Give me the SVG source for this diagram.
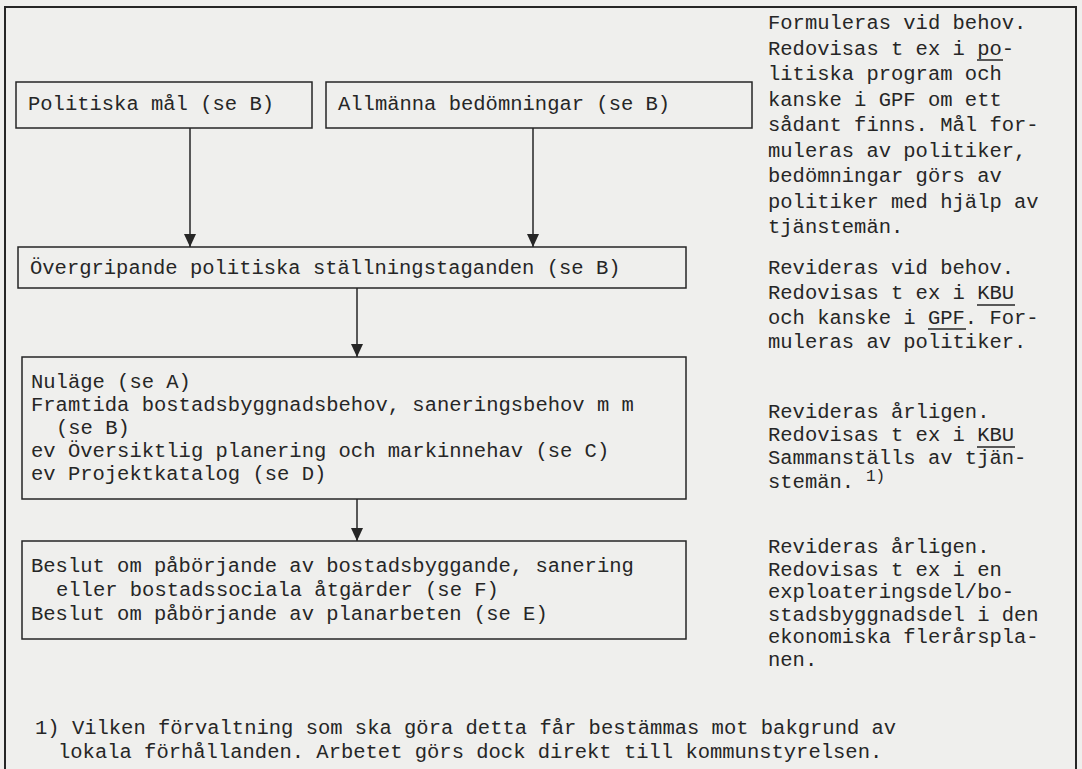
<svg xmlns="http://www.w3.org/2000/svg" width="1082" height="769" viewBox="0 0 1082 769">
<style>
text{font-family:"Liberation Mono","DejaVu Sans Mono",monospace;font-size:20.5px;fill:#262626}
.box{fill:none;stroke:#262626;stroke-width:1.5}
.frame{fill:none;stroke:#262626;stroke-width:2}
.conn{stroke:#262626;stroke-width:1.5;fill:none}
.ul{stroke:#262626;stroke-width:1.5}
.sup{font-size:16px}
</style>
<defs>
<marker id="ah" markerWidth="13" markerHeight="12" refX="13" refY="6" orient="auto" markerUnits="userSpaceOnUse" viewBox="0 0 13 12">
<path d="M0,0 L13,6 L0,12 Z" fill="#262626"/>
</marker>
</defs>
<rect width="1082" height="769" fill="#efefed"/>
<rect class="frame" x="5" y="7" width="1071" height="780"/>
<g id="n1">
<rect class="box" x="16" y="82" width="296" height="46"/>
<text x="28" y="110">Politiska mål (se B)</text>
</g>
<g id="n2">
<rect class="box" x="326" y="82" width="426" height="46"/>
<text x="338" y="110">Allmänna bedömningar (se B)</text>
</g>
<g id="n3">
<rect class="box" x="18" y="247" width="668" height="41"/>
<text x="30" y="274">Övergripande politiska ställningstaganden (se B)</text>
</g>
<g id="n4">
<rect class="box" x="22" y="357" width="664" height="142"/>
<text x="31" y="388">Nuläge (se A)</text>
<text x="31" y="411">Framtida bostadsbyggnadsbehov, saneringsbehov m m</text>
<text x="56" y="434">(se B)</text>
<text x="31" y="457">ev Översiktlig planering och markinnehav (se C)</text>
<text x="31" y="480">ev Projektkatalog (se D)</text>
</g>
<g id="n5">
<rect class="box" x="22" y="541" width="664" height="98"/>
<text x="31" y="572">Beslut om påbörjande av bostadsbyggande, sanering</text>
<text x="56" y="596">eller bostadssociala åtgärder (se F)</text>
<text x="31" y="620">Beslut om påbörjande av planarbeten (se E)</text>
</g>
<g id="connectors">
<line class="conn" x1="190" y1="128" x2="190" y2="247" marker-end="url(#ah)"/>
<line class="conn" x1="533" y1="128" x2="533" y2="247" marker-end="url(#ah)"/>
<line class="conn" x1="357" y1="288" x2="357" y2="357" marker-end="url(#ah)"/>
<line class="conn" x1="357" y1="499" x2="357" y2="541" marker-end="url(#ah)"/>
</g>
<g id="note1">
<text x="768" y="29">Formuleras vid behov.</text>
<text x="768" y="55">Redovisas t ex i po-</text>
<line class="ul" x1="977" y1="60" x2="1003" y2="60"/>
<text x="768" y="80">litiska program och</text>
<text x="768" y="106">kanske i GPF om ett</text>
<text x="768" y="131">sådant finns. Mål for-</text>
<text x="768" y="157">muleras av politiker,</text>
<text x="768" y="182">bedömningar görs av</text>
<text x="768" y="208">politiker med hjälp av</text>
<text x="768" y="233">tjänstemän.</text>
</g>
<g id="note2">
<text x="768" y="274">Revideras vid behov.</text>
<text x="768" y="299">Redovisas t ex i KBU</text>
<line class="ul" x1="977" y1="305" x2="1015" y2="305"/>
<text x="768" y="324">och kanske i GPF. For-</text>
<line class="ul" x1="928" y1="329" x2="966" y2="329"/>
<text x="768" y="348">muleras av politiker.</text>
</g>
<g id="note3">
<text x="768" y="418">Revideras årligen.</text>
<text x="768" y="441">Redovisas t ex i KBU</text>
<line class="ul" x1="977" y1="447" x2="1015" y2="447"/>
<text x="768" y="464">Sammanställs av tjän-</text>
<text x="768" y="488">stemän.</text>
<text class="sup" x="866" y="481">1)</text>
</g>
<g id="note4">
<text x="768" y="553">Revideras årligen.</text>
<text x="768" y="576">Redovisas t ex i en</text>
<text x="768" y="598">exploateringsdel/bo-</text>
<text x="768" y="621">stadsbyggnadsdel i den</text>
<text x="768" y="643">ekonomiska flerårspla-</text>
<text x="768" y="666">nen.</text>
</g>
<g id="footnote">
<text x="35" y="734">1) Vilken förvaltning som ska göra detta får bestämmas mot bakgrund av</text>
<text x="58" y="758">lokala förhållanden. Arbetet görs dock direkt till kommunstyrelsen.</text>
</g>
</svg>
